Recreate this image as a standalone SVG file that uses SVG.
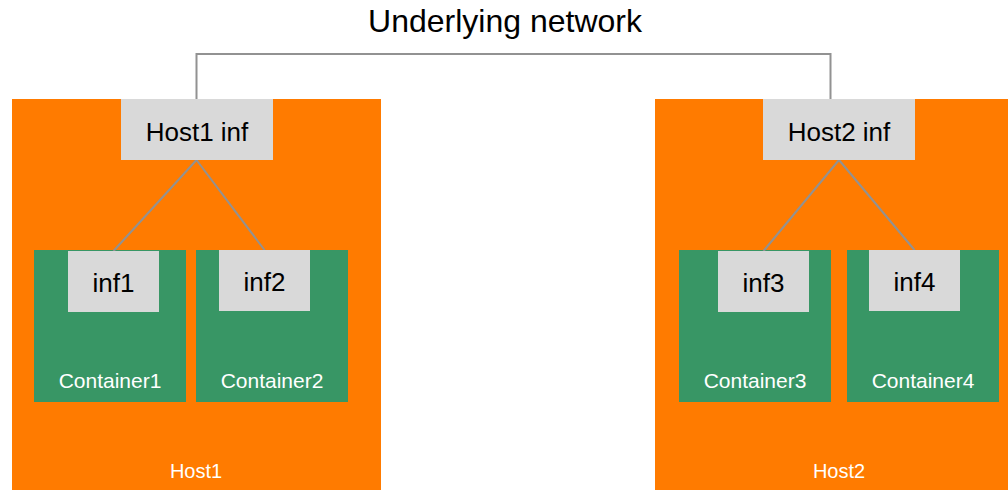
<svg xmlns="http://www.w3.org/2000/svg" width="1008" height="490" viewBox="0 0 1008 490">
  <style>
    text { font-family: "Liberation Sans", Arial, sans-serif; text-anchor: middle; }
    .host { fill: #FF7B00; }
    .container { fill: #389665; }
    .inf { fill: #D9D9D9; }
    .title { font-size: 32px; fill: #000; }
    .inf-label { font-size: 26px; fill: #000; }
    .cont-label { font-size: 21px; fill: #FFFFFF; }
    .host-label { font-size: 20px; fill: #FFFFFF; }
    .link { fill: none; stroke: #929292; stroke-width: 2; }
  </style>

  <text class="title" x="505" y="32">Underlying network</text>

  <!-- Host 1 -->
  <g id="host1">
    <rect class="host" x="12" y="99" width="369" height="391"/>
    <text class="host-label" x="196" y="477.5">Host1</text>
  </g>
  <g id="container1">
    <rect class="container" x="34" y="250" width="152" height="152"/>
    <text class="cont-label" x="110" y="387.5">Container1</text>
  </g>
  <g id="container2">
    <rect class="container" x="196" y="250" width="152" height="152"/>
    <text class="cont-label" x="272" y="387.5">Container2</text>
  </g>

  <!-- Host 2 -->
  <g id="host2">
    <rect class="host" x="655" y="99" width="369" height="391"/>
    <text class="host-label" x="839" y="477.5">Host2</text>
  </g>
  <g id="container3">
    <rect class="container" x="679" y="250" width="152" height="152"/>
    <text class="cont-label" x="755" y="387.5">Container3</text>
  </g>
  <g id="container4">
    <rect class="container" x="847" y="250" width="152" height="152"/>
    <text class="cont-label" x="923" y="387.5">Container4</text>
  </g>

  <!-- Connectors -->
  <g id="connectors">
    <polyline class="link" points="196.5,99 196.5,54 830.5,54 830.5,99"/>
    <line class="link" x1="196.5" y1="160" x2="113.5" y2="251"/>
    <line class="link" x1="196.5" y1="160" x2="264.5" y2="250"/>
    <line class="link" x1="839" y1="160" x2="763.5" y2="251"/>
    <line class="link" x1="839" y1="160" x2="914.5" y2="250"/>
  </g>

  <!-- Interfaces -->
  <g id="host1-inf">
    <rect class="inf" x="121" y="99" width="152" height="61"/>
    <text class="inf-label" x="197" y="140.5">Host1 inf</text>
  </g>
  <g id="host2-inf">
    <rect class="inf" x="763" y="99" width="152" height="61"/>
    <text class="inf-label" x="839" y="140.5">Host2 inf</text>
  </g>
  <g id="inf1">
    <rect class="inf" x="68" y="251" width="91" height="61"/>
    <text class="inf-label" x="113.5" y="291.5">inf1</text>
  </g>
  <g id="inf2">
    <rect class="inf" x="219" y="250" width="91" height="61"/>
    <text class="inf-label" x="264.5" y="290.5">inf2</text>
  </g>
  <g id="inf3">
    <rect class="inf" x="718" y="251" width="91" height="61"/>
    <text class="inf-label" x="763.5" y="291.5">inf3</text>
  </g>
  <g id="inf4">
    <rect class="inf" x="869" y="250" width="91" height="61"/>
    <text class="inf-label" x="914.5" y="290.5">inf4</text>
  </g>
</svg>
